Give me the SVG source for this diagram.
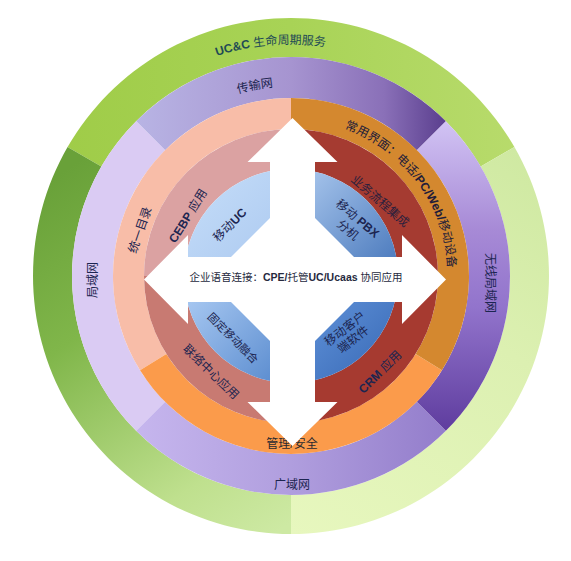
<svg xmlns="http://www.w3.org/2000/svg" width="571" height="561" viewBox="0 0 571 561">
<style>
.t{font-family:"Liberation Sans","Noto Sans CJK SC",sans-serif;font-size:12px;fill:#1c2550}
.b{font-weight:bold}
.c{text-anchor:middle}
</style>
<defs>
<linearGradient id="gGreenTop" gradientUnits="userSpaceOnUse" x1="60" y1="0" x2="520" y2="0"><stop offset="0" stop-color="#9fcc48"/><stop offset="0.5" stop-color="#a8d356"/><stop offset="1" stop-color="#b8db6c"/></linearGradient>
<linearGradient id="gGreenLeft" gradientUnits="userSpaceOnUse" x1="50" y1="180" x2="280" y2="530"><stop offset="0" stop-color="#69a139"/><stop offset="0.35" stop-color="#80b64a"/><stop offset="0.8" stop-color="#bfe08e"/><stop offset="1" stop-color="#cde9a3"/></linearGradient>
<linearGradient id="gGreenRight" gradientUnits="userSpaceOnUse" x1="290" y1="534" x2="515" y2="150"><stop offset="0" stop-color="#e7f7be"/><stop offset="0.6" stop-color="#dcf0b1"/><stop offset="1" stop-color="#cfe9a2"/></linearGradient>
<linearGradient id="gPurpleTop" gradientUnits="userSpaceOnUse" x1="136" y1="0" x2="446" y2="0"><stop offset="0" stop-color="#b8b4e4"/><stop offset="0.5" stop-color="#a694d0"/><stop offset="0.8" stop-color="#8a70b8"/><stop offset="1" stop-color="#5a3e8e"/></linearGradient>
<linearGradient id="gPurpleBottom" gradientUnits="userSpaceOnUse" x1="136" y1="0" x2="446" y2="0"><stop offset="0" stop-color="#c6b6ee"/><stop offset="0.5" stop-color="#b09ede"/><stop offset="1" stop-color="#937dcb"/></linearGradient>
<linearGradient id="gPurpleRight" gradientUnits="userSpaceOnUse" x1="0" y1="120" x2="0" y2="432"><stop offset="0" stop-color="#d2c4f4"/><stop offset="0.35" stop-color="#a78ad6"/><stop offset="0.6" stop-color="#9274cc"/><stop offset="1" stop-color="#5e3c9e"/></linearGradient>
<linearGradient id="gBlueTL" gradientUnits="userSpaceOnUse" x1="184" y1="169" x2="291" y2="276"><stop offset="0" stop-color="#c6def9"/><stop offset="1" stop-color="#a9c7ef"/></linearGradient>
<linearGradient id="gBlueTR" gradientUnits="userSpaceOnUse" x1="291" y1="169" x2="398" y2="276"><stop offset="0" stop-color="#b0ccf0"/><stop offset="1" stop-color="#4575ba"/></linearGradient>
<linearGradient id="gBlueBL" gradientUnits="userSpaceOnUse" x1="184" y1="276" x2="291" y2="383"><stop offset="0" stop-color="#b2d0f6"/><stop offset="1" stop-color="#5487cc"/></linearGradient>
<linearGradient id="gBlueBR" gradientUnits="userSpaceOnUse" x1="291" y1="276" x2="398" y2="383"><stop offset="0" stop-color="#6b9de2"/><stop offset="1" stop-color="#3566b3"/></linearGradient>
<path id="arcGreen" d="M59,276 A232,232 0 0 1 523,276"/>
<path id="arcPurple" d="M101,276 A190,190 0 0 1 481,276"/>
<path id="arcOrange" d="M291,119 A157,157 0 0 1 448,276 A157,157 0 0 1 291,433"/>
</defs>

<g id="lifecycle-services">
<path d="M514.43,147 A258,258 0 0 0 67.57,147 L101.34,166.5 A219,219 0 0 1 480.66,166.5 Z" fill="url(#gGreenTop)"/>
<path d="M67.57,147 A258,258 0 0 0 291,534 L291,495 A219,219 0 0 1 101.34,166.5 Z" fill="url(#gGreenLeft)"/>
<path d="M291,534 A258,258 0 0 0 514.43,147 L480.66,166.5 A219,219 0 0 1 291,495 Z" fill="url(#gGreenRight)"/>
<text class="t" fill="#1f4a55" style="fill:#1f4a55"><textPath href="#arcGreen" startOffset="47.2%" text-anchor="middle"><tspan class="b">UC&amp;C</tspan> 生命周期服务</textPath></text>
</g>

<g id="transport-net">
<path d="M445.86,121.14 A219,219 0 0 0 136.14,121.14 L165.13,150.13 A178,178 0 0 1 416.87,150.13 Z" fill="url(#gPurpleTop)"/>
<text class="t"><textPath href="#arcPurple" startOffset="44%" text-anchor="middle">传输网</textPath></text>
</g>
<g id="lan">
<path d="M136.14,121.14 A219,219 0 0 0 136.14,430.86 L165.13,401.87 A178,178 0 0 1 165.13,150.13 Z" fill="#dacbf3"/>
<text class="t c" transform="translate(93,280) rotate(-90)" y="4">局域网</text>
</g>
<g id="wan">
<path d="M136.14,430.86 A219,219 0 0 0 445.86,430.86 L416.87,401.87 A178,178 0 0 1 165.13,401.87 Z" fill="url(#gPurpleBottom)"/>
<text class="t c" x="292" y="489">广域网</text>
</g>
<g id="wlan">
<path d="M445.86,430.86 A219,219 0 0 0 445.86,121.14 L416.87,150.13 A178,178 0 0 1 416.87,401.87 Z" fill="url(#gPurpleRight)"/>
<text class="t c" transform="translate(490,283) rotate(90)" y="4">无线局域网</text>
</g>

<g id="unified-directory">
<path d="M291,98 A178,178 0 0 0 140.05,370.33 L166.34,353.9 A147,147 0 0 1 291,129 Z" fill="#f8bda8"/>
<text class="t c" transform="translate(140,230) rotate(-71)" y="4">统一目录</text>
</g>
<g id="management-security">
<path d="M140.05,370.33 A178,178 0 0 0 441.95,370.33 L415.66,353.9 A147,147 0 0 1 166.34,353.9 Z" fill="#fb9b4b"/>
<text class="t c" x="292" y="448" style="fill:#2a2a30">管理/安全</text>
</g>
<g id="common-interface">
<path d="M441.95,370.33 A178,178 0 0 0 291,98 L291,129 A147,147 0 0 1 415.66,353.9 Z" fill="#d4882f"/>
<text class="t" style="fill:#221c3a"><textPath href="#arcOrange" startOffset="146.6" text-anchor="middle">常用界面：电话/<tspan class="b">PC/Web/</tspan>移动设备</textPath></text>
</g>

<g id="cebp">
<path d="M291,129 A147,147 0 0 0 144,276 L184,276 A107,107 0 0 1 291,169 Z" fill="#dba2a2"/>
<text class="t c" transform="translate(188,216) rotate(-58)" y="4"><tspan class="b">CEBP</tspan> 应用</text>
</g>
<g id="business-process">
<path d="M438,276 A147,147 0 0 0 291,129 L291,169 A107,107 0 0 1 398,276 Z" fill="#a53b31"/>
<text class="t c" transform="translate(380,201) rotate(41)" y="4" style="fill:#2a1f3d">业务流程集成</text>
</g>
<g id="contact-center">
<path d="M144,276 A147,147 0 0 0 291,423 L291,383 A107,107 0 0 1 184,276 Z" fill="#c87a72"/>
<text class="t c" transform="translate(211,372) rotate(44)" y="4">联络中心应用</text>
</g>
<g id="crm">
<path d="M291,423 A147,147 0 0 0 438,276 L398,276 A107,107 0 0 1 291,383 Z" fill="#a63a30"/>
<text class="t c" transform="translate(380,372) rotate(-45)" y="4"><tspan class="b">CRM</tspan> 应用</text>
</g>

<g id="mobile-uc">
<path d="M291,276 L184,276 A107,107 0 0 1 291,169 Z" fill="url(#gBlueTL)"/>
<text class="t c" transform="translate(230,225) rotate(-45)" y="4">移动<tspan class="b">UC</tspan></text>
</g>
<g id="mobile-pbx">
<path d="M291,276 L291,169 A107,107 0 0 1 398,276 Z" fill="url(#gBlueTR)"/>
<text class="t c" transform="translate(353,224) rotate(40)"><tspan x="0" y="-3">移动 <tspan class="b">PBX</tspan></tspan><tspan x="0" y="12">分机</tspan></text>
</g>
<g id="fixed-mobile">
<path d="M291,276 L291,383 A107,107 0 0 1 184,276 Z" fill="url(#gBlueBL)"/>
<text class="t c" transform="translate(233,338) rotate(45)" y="4" style="font-size:11px">固定移动融合</text>
</g>
<g id="mobile-client">
<path d="M291,276 L398,276 A107,107 0 0 1 291,383 Z" fill="url(#gBlueBR)"/>
<text class="t c" transform="translate(349,334) rotate(-38)"><tspan x="0" y="-2.5">移动客户</tspan><tspan x="0" y="11">端软件</tspan></text>
</g>

<g id="connectors">
<polygon points="292.5,118 337.5,162 315,162 315,257 402,257 402,235 446,279.5 402,324 402,302 315,302 315,402 337.5,402 292.5,446 247.5,402 270,402 270,302 188,302 188,324 144,279.5 188,235 188,257 270,257 270,162 247.5,162" fill="#ffffff"/>
<polygon points="208.5,279.5 292.5,195.5 376.5,279.5 292.5,363.5" fill="#ffffff"/>
</g>

<g id="voice-connection">
<text class="t c" x="296" y="281" style="font-size:10.5px;fill:#262a3e">企业语音连接：<tspan class="b">CPE/</tspan>托管<tspan class="b">UC/Ucaas</tspan> 协同应用</text>
</g>
</svg>
